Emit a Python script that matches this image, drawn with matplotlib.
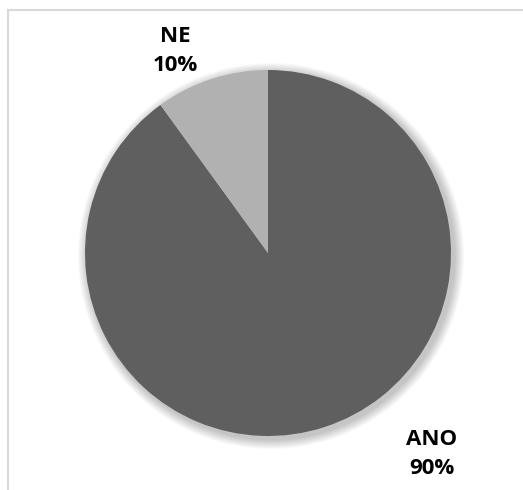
import matplotlib.pyplot as plt
from matplotlib.patches import Circle, Rectangle

labels = ["ANO", "NE"]
values = [90, 10]
colors = ["#5f5f5f", "#b1b1b1"]

W, H = 523, 490
fig = plt.figure(figsize=(W / 100, H / 100), dpi=100)
ax = fig.add_axes([0, 0, 1, 1])
ax.set_xlim(0, W)
ax.set_ylim(0, H)
ax.set_aspect("equal")
ax.axis("off")

# chart area border (cropped on right and bottom)
ax.add_patch(Rectangle((8, -10), W + 20, H - 10 + 10, fill=False,
                       edgecolor="#d9d9d9", linewidth=1.5))

cx, cy, r = 268, H - 253, 183

# soft shadow
for k in range(10, 0, -1):
    ax.add_patch(Circle((cx + 3, cy - 3), r + k, color="#000000",
                        alpha=0.025, linewidth=0))

ax.pie(values, colors=colors, startangle=90, counterclock=False,
       center=(cx, cy), radius=r, wedgeprops=dict(linewidth=0))
ax.set_xlim(0, W)
ax.set_ylim(0, H)

font = dict(fontsize=16, fontweight="bold", family="Open Sans",
            color="#000000", ha="center", va="center", linespacing=1.55)
ax.text(175, H - 51, f"{labels[1]}\n{values[1]}%", **font)
ax.text(432, H - 454, f"{labels[0]}\n{values[0]}%", **font)

plt.savefig("out.png", dpi=100)
